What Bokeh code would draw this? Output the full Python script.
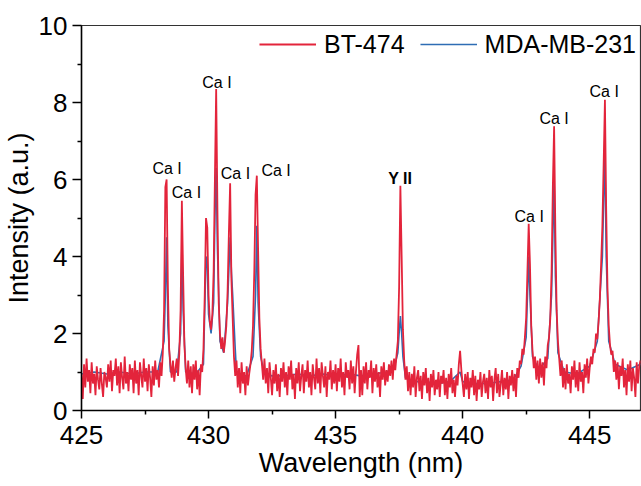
import numpy as np
from bokeh.plotting import figure
from bokeh.models import Legend, LegendItem, FixedTicker, Range1d
from bokeh.embed import file_html
from bokeh.resources import INLINE
from bokeh.core.properties import value

# ---------------- data ----------------
WL_START = 425.0   # nm, first sample
WL_STEP = 0.05     # nm, spectrometer sampling step

# BT-474 intensity (a.u.), one list per nanometre (20 samples each)
bt474_425 = [0.95, 0.30, 1.20, 0.60, 1.35, 0.75, 1.05, 0.45, 1.25, 0.70, 0.95, 0.40, 1.15, 0.80, 0.55, 1.10, 0.70, 0.35, 1.00, 0.85]
bt474_426 = [0.60, 1.20, 0.75, 1.30, 0.50, 1.05, 0.90, 1.35, 0.65, 1.15, 0.45, 1.25, 0.85, 0.55, 1.40, 0.70, 1.00, 0.50, 1.20, 0.80]
bt474_427 = [1.10, 0.45, 1.30, 0.70, 1.05, 0.40, 1.25, 0.90, 0.60, 1.35, 0.75, 1.10, 0.50, 1.20, 0.85, 0.35, 1.15, 0.65, 1.30, 0.80]
bt474_428 = [1.05, 0.60, 1.25, 0.90, 1.50, 2.60, 5.80, 6.00, 3.20, 1.60, 1.20, 0.85, 1.30, 0.75, 1.10, 1.35, 0.90, 1.50, 2.60, 5.45]
bt474_429 = [3.50, 1.70, 1.10, 0.70, 1.30, 0.60, 1.15, 0.45, 1.20, 0.80, 1.30, 0.55, 1.05, 0.40, 1.20, 1.00, 1.60, 3.00, 5.00, 4.75]
bt474_430 = [3.00, 2.30, 2.10, 2.50, 3.60, 6.00, 8.35, 5.20, 2.80, 2.00, 1.60, 1.90, 1.50, 1.80, 2.20, 3.10, 4.60, 5.90, 3.40, 2.40]
bt474_431 = [1.40, 0.90, 1.30, 0.60, 1.10, 0.45, 1.25, 0.70, 1.00, 0.40, 1.15, 0.65, 0.95, 1.20, 1.55, 2.20, 3.60, 5.60, 6.10, 4.20]
bt474_432 = [2.40, 1.60, 1.20, 0.80, 1.35, 0.70, 1.10, 0.45, 1.25, 0.85, 0.40, 1.05, 0.70, 1.20, 0.50, 0.95, 0.35, 1.10, 0.75, 1.25]
bt474_433 = [0.60, 1.00, 0.40, 1.15, 0.80, 1.30, 0.55, 0.95, 0.30, 1.10, 0.70, 1.25, 0.50, 0.90, 1.20, 0.45, 1.05, 0.75, 1.30, 0.60]
bt474_434 = [1.00, 0.40, 1.20, 0.85, 0.55, 1.35, 0.70, 1.10, 0.45, 1.25, 0.90, 0.60, 1.15, 0.35, 1.00, 0.80, 1.30, 0.55, 1.05, 0.70]
bt474_435 = [1.20, 0.50, 1.10, 0.75, 1.35, 0.60, 1.00, 0.40, 1.25, 0.85, 1.05, 0.55, 1.30, 0.70, 1.15, 0.45, 1.00, 1.45, 1.70, 0.35]
bt474_436 = [1.05, 0.40, 1.15, 0.70, 1.25, 0.55, 1.05, 0.85, 1.30, 0.45, 1.10, 0.75, 1.20, 0.60, 1.00, 0.35, 1.15, 0.80, 1.25, 0.65]
bt474_437 = [1.05, 0.75, 1.20, 0.90, 1.30, 0.80, 1.35, 1.05, 1.45, 1.80, 3.20, 5.84, 4.00, 2.10, 1.30, 0.80, 1.15, 0.50, 1.00, 0.40]
bt474_438 = [0.95, 0.60, 1.15, 0.35, 0.85, 1.05, 0.50, 0.90, 0.30, 1.00, 0.65, 1.10, 0.45, 0.85, 0.25, 0.95, 0.60, 1.05, 0.40, 0.80]
bt474_439 = [0.55, 1.00, 0.35, 0.90, 0.70, 1.05, 0.40, 0.85, 0.30, 0.95, 0.60, 1.10, 0.45, 0.80, 0.35, 0.90, 0.65, 1.20, 1.55, 1.05]
bt474_440 = [0.70, 0.35, 0.95, 0.55, 1.00, 0.30, 0.85, 0.60, 1.05, 0.40, 0.90, 0.25, 0.80, 0.55, 1.00, 0.35, 0.75, 0.95, 0.45, 0.85]
bt474_441 = [0.30, 1.05, 0.60, 0.90, 0.25, 0.80, 1.10, 0.45, 0.95, 0.35, 0.70, 1.05, 0.40, 0.85, 0.55, 1.00, 0.30, 0.90, 0.65, 1.05]
bt474_442 = [0.50, 0.95, 0.35, 1.10, 0.85, 1.30, 1.20, 1.60, 1.45, 1.90, 2.40, 3.60, 4.85, 3.80, 2.20, 1.55, 1.10, 1.40, 0.80, 1.30]
bt474_443 = [0.70, 1.35, 0.85, 1.25, 0.65, 1.40, 1.10, 1.70, 1.90, 2.40, 3.60, 5.80, 7.38, 4.60, 2.60, 1.80, 1.35, 0.90, 1.30, 0.60]
bt474_444 = [1.10, 0.55, 1.20, 0.70, 0.95, 0.45, 1.15, 0.80, 1.30, 0.60, 1.05, 0.50, 1.25, 0.75, 1.00, 0.45, 1.20, 0.85, 1.35, 0.70]
bt474_445 = [1.10, 1.40, 1.20, 1.60, 1.50, 2.00, 1.85, 2.30, 2.90, 3.80, 4.80, 6.40, 8.07, 5.20, 3.20, 2.20, 1.70, 1.45, 1.55, 1.00]
bt474_446 = [1.30, 0.80, 1.25, 0.55, 1.15, 0.90, 1.35, 0.60, 1.05, 0.40, 1.20, 0.75, 1.30, 0.50, 1.10, 0.85, 0.35, 1.25, 0.70, 1.15]
bt474_447 = [1.30]

# MDA-MB-231 (only where it departs from / shows behind BT-474)
mda_wl = [425.0, 425.5, 426.0, 426.5, 427.0, 427.5, 428.0, 428.25, 428.30, 428.35, 428.40, 428.50,
          428.75, 428.90, 428.95, 429.00, 429.10, 429.50, 429.80, 429.90, 429.95, 430.00, 430.10,
          430.20, 430.25, 430.30, 430.35, 430.45, 430.60, 430.75, 430.85, 430.90, 430.95, 431.00,
          431.05, 431.10, 431.20, 431.50, 431.75, 431.85, 431.90, 431.95, 432.05, 432.20, 432.50,
          433.0, 433.5, 434.0, 434.5, 435.0, 435.5, 436.0, 436.5, 437.0, 437.30, 437.45, 437.50,
          437.55, 437.60, 437.65, 437.75, 438.0, 438.5, 439.0, 439.5, 439.90, 440.0, 440.5, 441.0,
          441.5, 442.0, 442.30, 442.50, 442.60, 442.65, 442.75, 443.0, 443.35, 443.50, 443.55,
          443.60, 443.65, 443.75, 444.0, 444.5, 445.0, 445.30, 445.50, 445.55, 445.60, 445.65,
          445.75, 446.0, 446.5, 447.0]
mda_int = [0.95, 1.00, 0.95, 1.00, 0.95, 1.00, 1.00, 1.80, 3.00, 4.50, 2.20, 1.00,
           1.00, 2.00, 4.30, 2.60, 1.00, 0.95, 1.20, 4.00, 3.80, 2.50, 2.00,
           2.80, 5.00, 6.30, 4.20, 1.80, 1.50, 2.80, 4.50, 3.60, 3.00, 2.30,
           1.60, 1.00, 0.90, 0.90, 1.40, 3.00, 4.80, 2.80, 1.40, 0.95, 0.90,
           0.90, 0.95, 0.90, 0.95, 0.90, 0.95, 0.90, 0.95, 1.00, 1.10, 1.50, 2.00,
           2.45, 2.00, 1.40, 0.85, 0.75, 0.75, 0.70, 0.75, 1.00, 0.75, 0.70, 0.70,
           0.75, 0.80, 1.15, 1.90, 4.00, 3.00, 1.40, 1.05, 1.35, 3.00, 4.50,
           6.10, 3.50, 1.50, 1.00, 0.95, 1.15, 1.80, 4.00, 5.50, 6.60, 4.00,
           1.80, 1.20, 1.05, 1.20]

# line identifications
label_text = ["Ca I", "Ca I", "Ca I", "Ca I", "Ca I", "Ca I", "Ca I", "Ca I"]
label_wl = [428.37, 429.13, 430.33, 431.06, 432.66, 442.62, 443.60, 445.57]
label_y = [6.29, 5.66, 8.52, 6.16, 6.23, 5.04, 7.58, 8.29]
yii_text = ["Y II"]
yii_wl = [437.54]
yii_y = [6.03]

x_major = [425, 430, 435, 440, 445]
x_minor = [427.5, 432.5, 437.5, 442.5]
y_major = [0, 2, 4, 6, 8, 10]
y_minor = [1, 3, 5, 7, 9]

# ---------------- build ----------------
bt474 = np.array(bt474_425 + bt474_426 + bt474_427 + bt474_428 + bt474_429 + bt474_430 +
                 bt474_431 + bt474_432 + bt474_433 + bt474_434 + bt474_435 + bt474_436 +
                 bt474_437 + bt474_438 + bt474_439 + bt474_440 + bt474_441 + bt474_442 +
                 bt474_443 + bt474_444 + bt474_445 + bt474_446 + bt474_447)
wl = WL_START + WL_STEP * np.arange(len(bt474))

FONT = "Liberation Sans"
RED = "#E3243B"
BLUE = "#2E6DB4"

p = figure(width=641, height=486, x_range=Range1d(425, 447), y_range=Range1d(0, 10),
           output_backend="svg", toolbar_location=None,
           min_border_left=81, min_border_right=1, min_border_top=25, min_border_bottom=76)
p.background_fill_color = "white"
p.border_fill_color = "white"
p.grid.visible = False
p.outline_line_color = "#333333"
p.outline_line_width = 1.2

r_blue = p.line(mda_wl, mda_int, line_color=BLUE, line_width=1.6)
r_red = p.line(wl, bt474, line_color=RED, line_width=1.8)

p.text(x=label_wl, y=label_y, text=label_text, text_align="center", text_baseline="alphabetic",
       text_font=value(FONT), text_font_size="16px", text_color="black")
p.text(x=yii_wl, y=yii_y, text=yii_text, text_align="center", text_baseline="alphabetic",
       text_font=value(FONT), text_font_size="16px", text_font_style="bold", text_color="black")

for ax in (p.xaxis[0], p.yaxis[0]):
    ax.axis_line_color = "black"
    ax.axis_line_width = 1.5
    ax.major_tick_line_color = "black"
    ax.major_tick_line_width = 1.5
    ax.minor_tick_line_color = "black"
    ax.minor_tick_line_width = 1.5
    ax.major_tick_in = 0
    ax.minor_tick_in = 0
    ax.major_label_text_font = FONT
    ax.major_label_text_font_size = "26px"
    ax.major_label_text_color = "black"
    ax.axis_label_text_font = FONT
    ax.axis_label_text_font_size = "27px"
    ax.axis_label_text_font_style = "normal"
    ax.axis_label_text_color = "black"

p.xaxis.ticker = FixedTicker(ticks=x_major, minor_ticks=x_minor)
p.yaxis.ticker = FixedTicker(ticks=y_major, minor_ticks=y_minor)
p.xaxis.major_tick_out = 8
p.xaxis.minor_tick_out = 4
p.yaxis.major_tick_out = 9
p.yaxis.minor_tick_out = 4
p.xaxis.major_label_standoff = 7
p.yaxis.major_label_standoff = 5
p.xaxis.axis_label = "Wavelength (nm)"
p.yaxis.axis_label = "Intensity (a.u.)"
p.xaxis.axis_label_standoff = 1
p.yaxis.axis_label_standoff = 2

legend = Legend(items=[LegendItem(label="BT-474", renderers=[r_red]),
                       LegendItem(label="MDA-MB-231", renderers=[r_blue])],
                orientation="horizontal", location="top_right",
                border_line_color=None, background_fill_alpha=0,
                label_text_font=FONT, label_text_font_size="25px", label_text_color="black",
                glyph_width=57, glyph_height=30, label_height=30, label_standoff=8,
                spacing=15, padding=0, margin=4)
p.add_layout(legend)

open("out.html", "w").write(file_html(p, INLINE))
